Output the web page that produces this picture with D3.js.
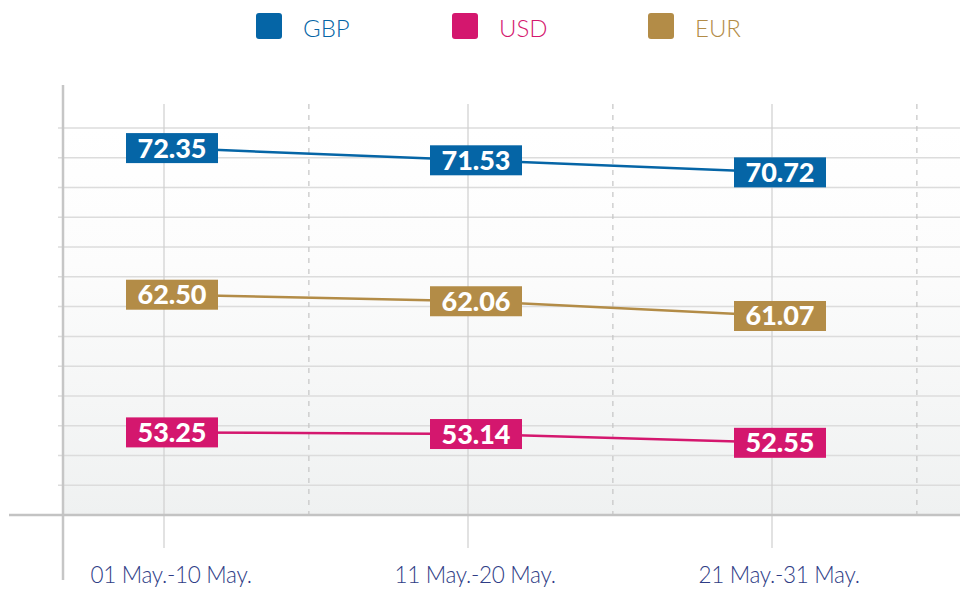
<!DOCTYPE html>
<html>
<head>
<meta charset="utf-8">
<script src="https://cdn.jsdelivr.net/npm/d3@7"></script>
<style>
  body { margin: 0; background: #fff; }
  svg { display: block; }
</style>
</head>
<body>
<div id="chart"></div>
<script>
let periods = ['01 May.-10 May.', '11 May.-20 May.', '21 May.-31 May.'];
let gbp = [72.35, 71.53, 70.72];
let usd = [53.25, 53.14, 52.55];
let eur = [62.50, 62.06, 61.07];
let currencies = ['GBP', 'USD', 'EUR'];
let colors = ['#0565a6', '#d4176e', '#b38c47'];

let width = 960, height = 590;
let axisX = 63, axisY = 515, plotTop = 128;

let svg = d3.select('#chart').append('svg')
    .attr('width', width)
    .attr('height', height);

let defs = svg.append('defs');
let grad = defs.append('linearGradient')
    .attr('id', 'bg').attr('x1', 0).attr('y1', 0).attr('x2', 0).attr('y2', 1);
grad.append('stop').attr('offset', '0%').attr('stop-color', '#ffffff');
grad.append('stop').attr('offset', '35%').attr('stop-color', '#fcfcfc');
grad.append('stop').attr('offset', '100%').attr('stop-color', '#eff1f1');

// scales
let x = d3.scaleLinear().domain([0, periods.length - 1]).range([166, 774]);
let y = d3.scaleLinear().domain([47.7, 73.7]).range([axisY, plotTop]);

svg.append('rect')
    .attr('x', axisX).attr('y', plotTop)
    .attr('width', width - axisX).attr('height', axisY - plotTop)
    .attr('fill', 'url(#bg)');

// horizontal grid
let gridVals = d3.range(47.7 + 2, 73.71, 2);
svg.append('g').selectAll('line')
    .data(gridVals)
    .enter().append('line')
    .attr('x1', axisX - 5).attr('x2', width)
    .attr('y1', d => y(d)).attr('y2', d => y(d))
    .attr('stroke', '#dcdcdc')
    .attr('stroke-width', 1.5);

// vertical grid: solid at categories, dashed between
let idx = d3.range(periods.length);
svg.append('g').selectAll('line')
    .data(idx)
    .enter().append('line')
    .attr('x1', d => x(d) - 2).attr('x2', d => x(d) - 2)
    .attr('y1', 104).attr('y2', 548)
    .attr('stroke', '#cfcfcf')
    .attr('stroke-width', 1.2);

svg.append('g').selectAll('line')
    .data(idx)
    .enter().append('line')
    .attr('x1', d => x(d + 0.47)).attr('x2', d => x(d + 0.47))
    .attr('y1', 104).attr('y2', 522)
    .attr('stroke', '#c4c4c4')
    .attr('stroke-width', 1.2)
    .attr('stroke-dasharray', '5,6');

// axes
svg.append('line')
    .attr('x1', axisX).attr('x2', axisX)
    .attr('y1', 85).attr('y2', 580)
    .attr('stroke', '#c6c6c6').attr('stroke-width', 2.5);
svg.append('line')
    .attr('x1', 9).attr('x2', width)
    .attr('y1', axisY).attr('y2', axisY)
    .attr('stroke', '#c3c3c3').attr('stroke-width', 2.5);

// category labels
svg.append('g').selectAll('text')
    .data(periods)
    .enter().append('text')
    .attr('x', (d, i) => x(i) + 5)
    .attr('y', 583)
    .attr('text-anchor', 'middle')
    .attr('font-family', 'Lato, sans-serif')
    .attr('font-weight', 300)
    .attr('font-size', 22.5)
    .attr('letter-spacing', -0.3)
    .attr('fill', '#2f3d86')
    .text(d => d);

// legend
let legend = svg.append('g').selectAll('g')
    .data(currencies)
    .enter().append('g')
    .attr('transform', (d, i) => 'translate(' + (256 + i * 196) + ',13)');
legend.append('rect')
    .attr('width', 26).attr('height', 26).attr('rx', 3)
    .attr('fill', (d, i) => colors[i]);
legend.append('text')
    .attr('x', 47).attr('y', 24)
    .attr('font-family', 'Lato, sans-serif')
    .attr('font-weight', 300)
    .attr('font-size', 24)
    .attr('fill', (d, i) => colors[i])
    .text(d => d);

// series
let series = [gbp, usd, eur];
let line = d3.line()
    .x((d, i) => x(i) + 6)
    .y(d => y(d));

series.forEach(function (vals, s) {
    svg.append('path')
        .datum(vals)
        .attr('d', line)
        .attr('fill', 'none')
        .attr('stroke', colors[s])
        .attr('stroke-width', 2.5);

    let labels = svg.append('g').selectAll('g')
        .data(vals)
        .enter().append('g')
        .attr('transform', (d, i) => 'translate(' + (x(i) + 6) + ',' + y(d) + ')');
    labels.append('rect')
        .attr('x', -46).attr('y', -15)
        .attr('width', 92).attr('height', 30)
        .attr('fill', colors[s]);
    labels.append('text')
        .attr('text-anchor', 'middle')
        .attr('y', 9.5)
        .attr('font-family', 'Lato, sans-serif')
        .attr('font-weight', 900)
        .attr('font-size', 27)
        .attr('fill', '#fff')
        .text(d => d.toFixed(2));
});
</script>
</body>
</html>
